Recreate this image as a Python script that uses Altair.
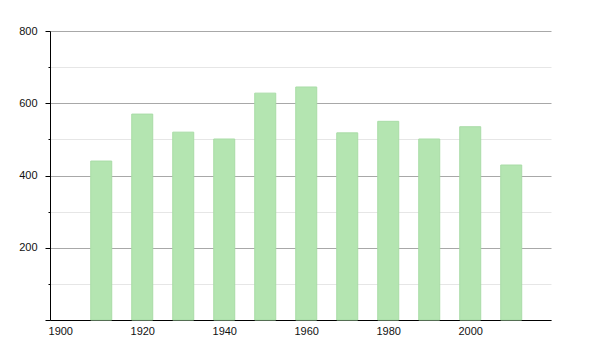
import altair as alt
import pandas as pd

years = [1910, 1920, 1930, 1940, 1950, 1960, 1970, 1980, 1990, 2000, 2010]
values = [440, 570, 520, 501, 628, 645, 518, 550, 501, 535, 429]

df = pd.DataFrame({"year": years, "value": values})

font = "Liberation Sans"

bars = alt.Chart(df).mark_bar(
    width=21, color="#b4e5b1", stroke="#a9dca7", strokeWidth=1
).encode(
    x=alt.X("year:Q",
            scale=alt.Scale(domain=[1897.5, 2019.7], nice=False, zero=False, padding=0),
            axis=alt.Axis(values=[1900, 1920, 1940, 1960, 1980, 2000],
                          format="d", title=None, grid=False, ticks=False,
                          domainColor="#000", domainWidth=1,
                          labelFont=font, labelFontSize=11, labelColor="#111",
                          labelPadding=5)),
    y=alt.Y("value:Q",
            scale=alt.Scale(domain=[0, 800], nice=False),
            axis=alt.Axis(values=[0, 100, 200, 300, 400, 500, 600, 700, 800],
                          title=None, grid=True,
                          gridColor={"condition": {"test": "datum.value % 200 === 0", "value": "#a8a8a8"}, "value": "#e6e6e6"},
                          tickSize={"condition": {"test": "datum.value % 200 === 0", "value": 5}, "value": 2},
                          tickColor="#000",
                          labelExpr="datum.value % 200 === 0 && datum.value > 0 ? datum.label : ''",
                          domainColor="#000", domainWidth=1,
                          labelFont=font, labelFontSize=11, labelColor="#111",
                          labelPadding=8)),
)

chart = bars.properties(
    width=501, height=289,
    padding={"left": 50, "top": 31, "right": 49, "bottom": 30},
    autosize=alt.AutoSizeParams(type="none"),
).configure_view(stroke=None)

chart.save("out.html", embed_options={"renderer": "svg", "actions": False})
